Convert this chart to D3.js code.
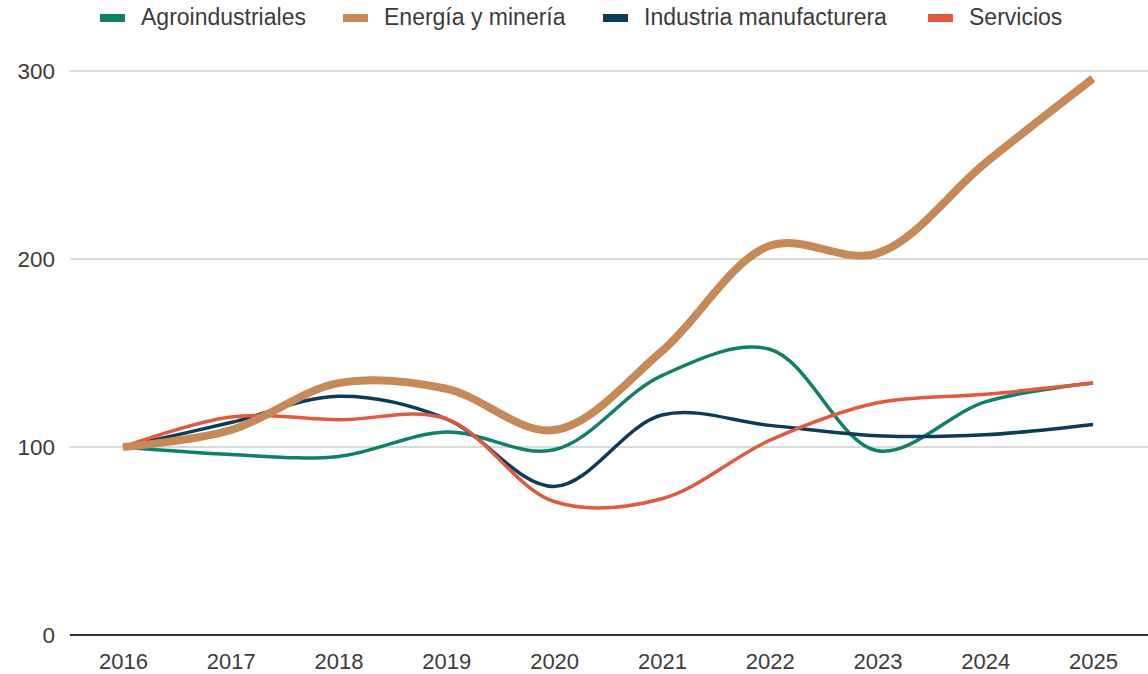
<!DOCTYPE html>
<html><head><meta charset="utf-8">
<script src="https://cdn.jsdelivr.net/npm/d3@7"></script>
<style>body{margin:0;background:#fff}svg{display:block}</style>
</head><body>
<svg id="c" width="1148" height="674"></svg>
<script>
const years = ["2016","2017","2018","2019","2020","2021","2022","2023","2024","2025"];
const agroindustriales = [100, 96, 95, 108, 98.5, 138, 152, 98, 124, 134];
const energiaMineria   = [100, 109, 134, 131, 109, 151, 207, 203, 251, 296];
const industriaManuf   = [100, 113, 127, 115, 79, 117, 111.5, 106, 106.5, 112];
const servicios        = [100, 116, 114.5, 115, 71, 72.5, 103.5, 123.5, 128, 134];
const yTicks = [0, 100, 200, 300];
const seriesNames = ["Agroindustriales", "Energía y minería", "Industria manufacturera", "Servicios"];
const seriesColors = ["#10806b", "#c68a58", "#0b3c5a", "#df5a3f"];
const seriesWidths = [3.5, 8, 3.5, 3.5];
const seriesValues = [agroindustriales, energiaMineria, industriaManuf, servicios];

const svg = d3.select("#c");
const x = d3.scalePoint().domain(years).range([123, 1093]);
const y = d3.scaleLinear().domain([0, 300]).range([635, 71]);
const font = "'Liberation Sans', Arial, sans-serif";

// gridlines
svg.append("g").selectAll("line").data(yTicks.filter(d => d > 0)).join("line")
  .attr("x1", 70).attr("x2", 1148)
  .attr("y1", d => y(d)).attr("y2", d => y(d))
  .attr("stroke", "#cccccc").attr("stroke-width", 1.5);

// y axis labels
const yAxis = d3.axisLeft(y).tickValues(yTicks).tickSize(0).tickPadding(0);
const gy = svg.append("g").attr("transform", "translate(55,0)").call(yAxis);
gy.select(".domain").remove();
gy.selectAll("text").attr("font-family", font).attr("font-size", 22.5).attr("fill", "#3c3c3c");

// x axis labels
const xAxis = d3.axisBottom(x).tickSize(0).tickPadding(0);
const gx = svg.append("g").attr("transform", "translate(0,653)").call(xAxis);
gx.select(".domain").remove();
gx.selectAll("text").attr("font-family", font).attr("font-size", 22).attr("fill", "#3c3c3c");

// baseline
svg.append("line").attr("x1", 70).attr("x2", 1148).attr("y1", y(0)).attr("y2", y(0))
  .attr("stroke", "#333").attr("stroke-width", 2);

// lines
const line = d3.line().x((d, i) => x(years[i])).y(d => y(d)).curve(d3.curveCatmullRom.alpha(0.5));
const order = [0, 2, 3, 1];
svg.append("g").selectAll("path").data(order).join("path")
  .attr("d", i => line(seriesValues[i]))
  .attr("fill", "none")
  .attr("stroke", i => seriesColors[i])
  .attr("stroke-width", i => seriesWidths[i])
  .attr("stroke-linejoin", "round");

// legend
const legendX = [141, 384, 644, 969];
const lg = svg.append("g").selectAll("g").data(seriesNames).join("g")
  .attr("transform", (d, i) => `translate(${legendX[i]},0)`);
lg.append("rect").attr("x", -41).attr("y", 14).attr("width", 25).attr("height", 8)
  .attr("fill", (d, i) => seriesColors[i]);
lg.append("text").attr("x", 0).attr("y", 25).text(d => d)
  .attr("font-family", font).attr("font-size", 23).attr("fill", "#3c3c3c");
</script>
</body></html>
